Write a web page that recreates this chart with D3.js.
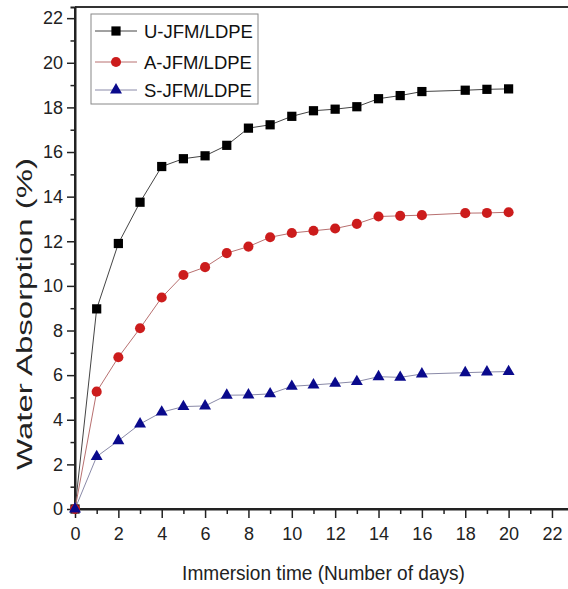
<!DOCTYPE html>
<html><head><meta charset="utf-8">
<script src="https://cdn.jsdelivr.net/npm/d3@7"></script>
<style>body{margin:0;background:#fff}svg{display:block}text{font-family:"Liberation Sans",Arial,sans-serif}</style>
</head><body>
<svg id="c" width="568" height="589"></svg>
<script>
const days = [0,1,2,3,4,5,6,7,8,9,10,11,12,13,14,15,16,18,19,20];
const uJFM = [0,8.97,11.9,13.75,15.35,15.7,15.83,16.3,17.07,17.22,17.6,17.85,17.92,18.03,18.39,18.53,18.71,18.77,18.81,18.83];
const aJFM = [0,5.26,6.8,8.1,9.48,10.49,10.84,11.47,11.76,12.18,12.37,12.47,12.57,12.78,13.11,13.14,13.17,13.26,13.27,13.3];
const sJFM = [0,2.35,3.06,3.81,4.34,4.59,4.62,5.1,5.11,5.16,5.5,5.56,5.63,5.71,5.93,5.9,6.05,6.11,6.14,6.16];
const seriesNames = ["U-JFM/LDPE","A-JFM/LDPE","S-JFM/LDPE"];
const xTicks = [0,2,4,6,8,10,12,14,16,18,20,22];
const yTicks = [0,2,4,6,8,10,12,14,16,18,20,22];

const svg = d3.select("#c");
const L=75, T=7, B=509;
const x = d3.scaleLinear().domain([0,23]).range([L, L+23*21.68]);
const y = d3.scaleLinear().domain([0,22.5]).range([B, T]);

// frame
svg.append("line").attr("x1",L).attr("x2",600).attr("y1",T).attr("y2",T).attr("stroke","#333").attr("stroke-width",2);

// axes
const xAxis = d3.axisBottom(x).tickValues(xTicks).tickSize(9).tickPadding(9).tickFormat(d3.format("d"));
const gx = svg.append("g").attr("transform",`translate(0,${B})`).call(xAxis);
const xMinor = d3.axisBottom(x).tickValues(d3.range(1,23,2)).tickSize(5).tickFormat("");
svg.append("g").attr("transform",`translate(0,${B})`).call(xMinor);
const yAxis = d3.axisLeft(y).tickValues(yTicks).tickSize(8).tickPadding(4).tickFormat(d3.format("d"));
const gy = svg.append("g").attr("transform",`translate(${L},0)`).call(yAxis);
const yMinor = d3.axisLeft(y).tickValues(d3.range(1,23,2)).tickSize(4.5).tickFormat("");
svg.append("g").attr("transform",`translate(${L},0)`).call(yMinor);
svg.selectAll(".domain").attr("stroke","#222").attr("stroke-width",2);
svg.selectAll(".tick line").attr("stroke","#222").attr("stroke-width",1.5);
svg.selectAll(".tick text").attr("font-size",18).attr("fill","#222");
gy.select(".domain").attr("d",`M0,${B}V${T}`);
gx.select(".domain").attr("d",`M${L},0H600`);

// titles (stretched to match the reference proportions)
const xt = svg.append("text").attr("text-anchor","middle").attr("font-size",21).attr("fill","#222").text("Immersion time (Number of days)");
const xs = 283 / xt.node().getComputedTextLength();
xt.attr("transform",`translate(323.5,580) scale(${xs},1)`);
const yt = svg.append("text").attr("text-anchor","middle").attr("font-size",22).attr("fill","#222").text("Water Absorption (%)");
const ys = 312 / yt.node().getComputedTextLength();
yt.attr("transform",`translate(32,314) rotate(-90) scale(${ys},1)`);

const defs = svg.append("defs");
defs.append("filter").attr("id","blur").append("feGaussianBlur").attr("stdDeviation",0.6);

const data = [uJFM,aJFM,sJFM];
const lineColors = ["#444","#b87070","#8a8aa8"];
const markColors = ["#000","#cc1f1f","#0a0a8c"];
const syms = [d3.symbolSquare,d3.symbolCircle,d3.symbolTriangle];
const symSize = [85,80,62];

const line = d3.line().x((d,i)=>x(days[i])).y(d=>y(d));
data.forEach((vals,k)=>{
  svg.append("path").datum(vals).attr("d",line).attr("fill","none").attr("stroke",lineColors[k]).attr("stroke-width",1);
});
data.forEach((vals,k)=>{
  svg.append("g").selectAll("path").data(vals).join("path")
    .attr("transform",(d,i)=>`translate(${x(days[i])},${y(d)})`)
    .attr("d",d3.symbol().type(syms[k]).size(symSize[k]))
    .attr("fill",markColors[k])
    .attr("filter",k===1?"url(#blur)":null);
});

// legend
const lg = svg.append("g");
lg.append("rect").attr("x",91).attr("y",14).attr("width",167).attr("height",90).attr("fill","#fff").attr("stroke","#888").attr("stroke-width",1);
const ly = [31,62,90];
seriesNames.forEach((n,k)=>{
  lg.append("line").attr("x1",95).attr("x2",137).attr("y1",ly[k]).attr("y2",ly[k]).attr("stroke",lineColors[k]).attr("stroke-width",1);
  lg.append("path").attr("transform",`translate(116,${ly[k]})`).attr("d",d3.symbol().type(syms[k]).size(symSize[k])).attr("fill",markColors[k]).attr("filter",k===1?"url(#blur)":null);
  lg.append("text").attr("x",144).attr("y",ly[k]+7).attr("font-size",18.5).attr("fill","#111").text(n);
});
</script>
</body></html>
